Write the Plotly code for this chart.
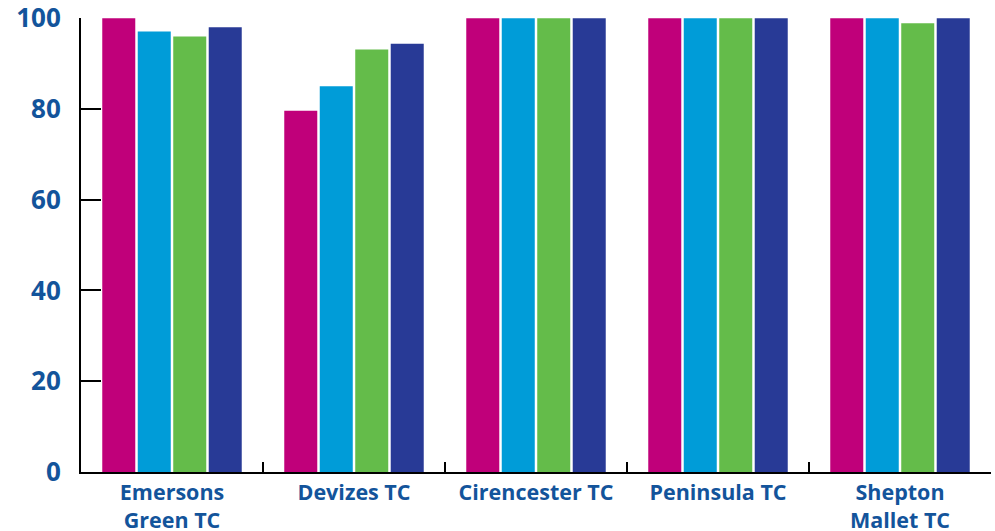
import plotly.graph_objects as go

categories = ["Emersons<br>Green TC", "Devizes TC", "Cirencester TC", "Peninsula TC", "Shepton<br>Mallet TC"]
series_a = [100, 79.6, 100, 100, 100]
series_b = [97.1, 85.0, 100, 100, 100]
series_c = [96.0, 93.1, 100, 100, 98.9]
series_d = [98.0, 94.4, 100, 100, 100]
colors = ["#C0007A", "#009CD8", "#64BC4A", "#283A96"]
y_ticks = [0, 20, 40, 60, 80, 100]

fig = go.Figure()
for vals, col in zip([series_a, series_b, series_c, series_d], colors):
    fig.add_trace(go.Bar(x=categories, y=vals, marker=dict(color=col, line=dict(width=0)), showlegend=False))

label_color = "#13549B"
fig.update_layout(
    width=995, height=531,
    margin=dict(l=81, r=4, t=18, b=59, autoexpand=False),
    paper_bgcolor="white", plot_bgcolor="white",
    barmode="group", bargap=0.22, bargroupgap=0.07,
    font=dict(family="Open Sans", color=label_color),
)
fig.update_xaxes(
    showline=True, linecolor="black", linewidth=2, automargin=False,
    ticks="inside", tickson="boundaries", ticklen=10, tickwidth=2, tickcolor="black",
    tickfont=dict(size=21.5, family="Open Sans", weight="bold", color=label_color),
    showgrid=False, zeroline=False, ticklabelstandoff=0,
)
fig.update_yaxes(
    range=[0, 100.05], tickvals=y_ticks, automargin=False, ticklabeloverflow="allow",
    showline=True, linecolor="black", linewidth=2,
    ticks="inside", ticklen=20, tickwidth=2, tickcolor="black",
    tickfont=dict(size=26, family="Open Sans", weight="bold", color=label_color),
    showgrid=False, zeroline=False, ticklabelstandoff=13,
)
fig.write_html("out.html")
